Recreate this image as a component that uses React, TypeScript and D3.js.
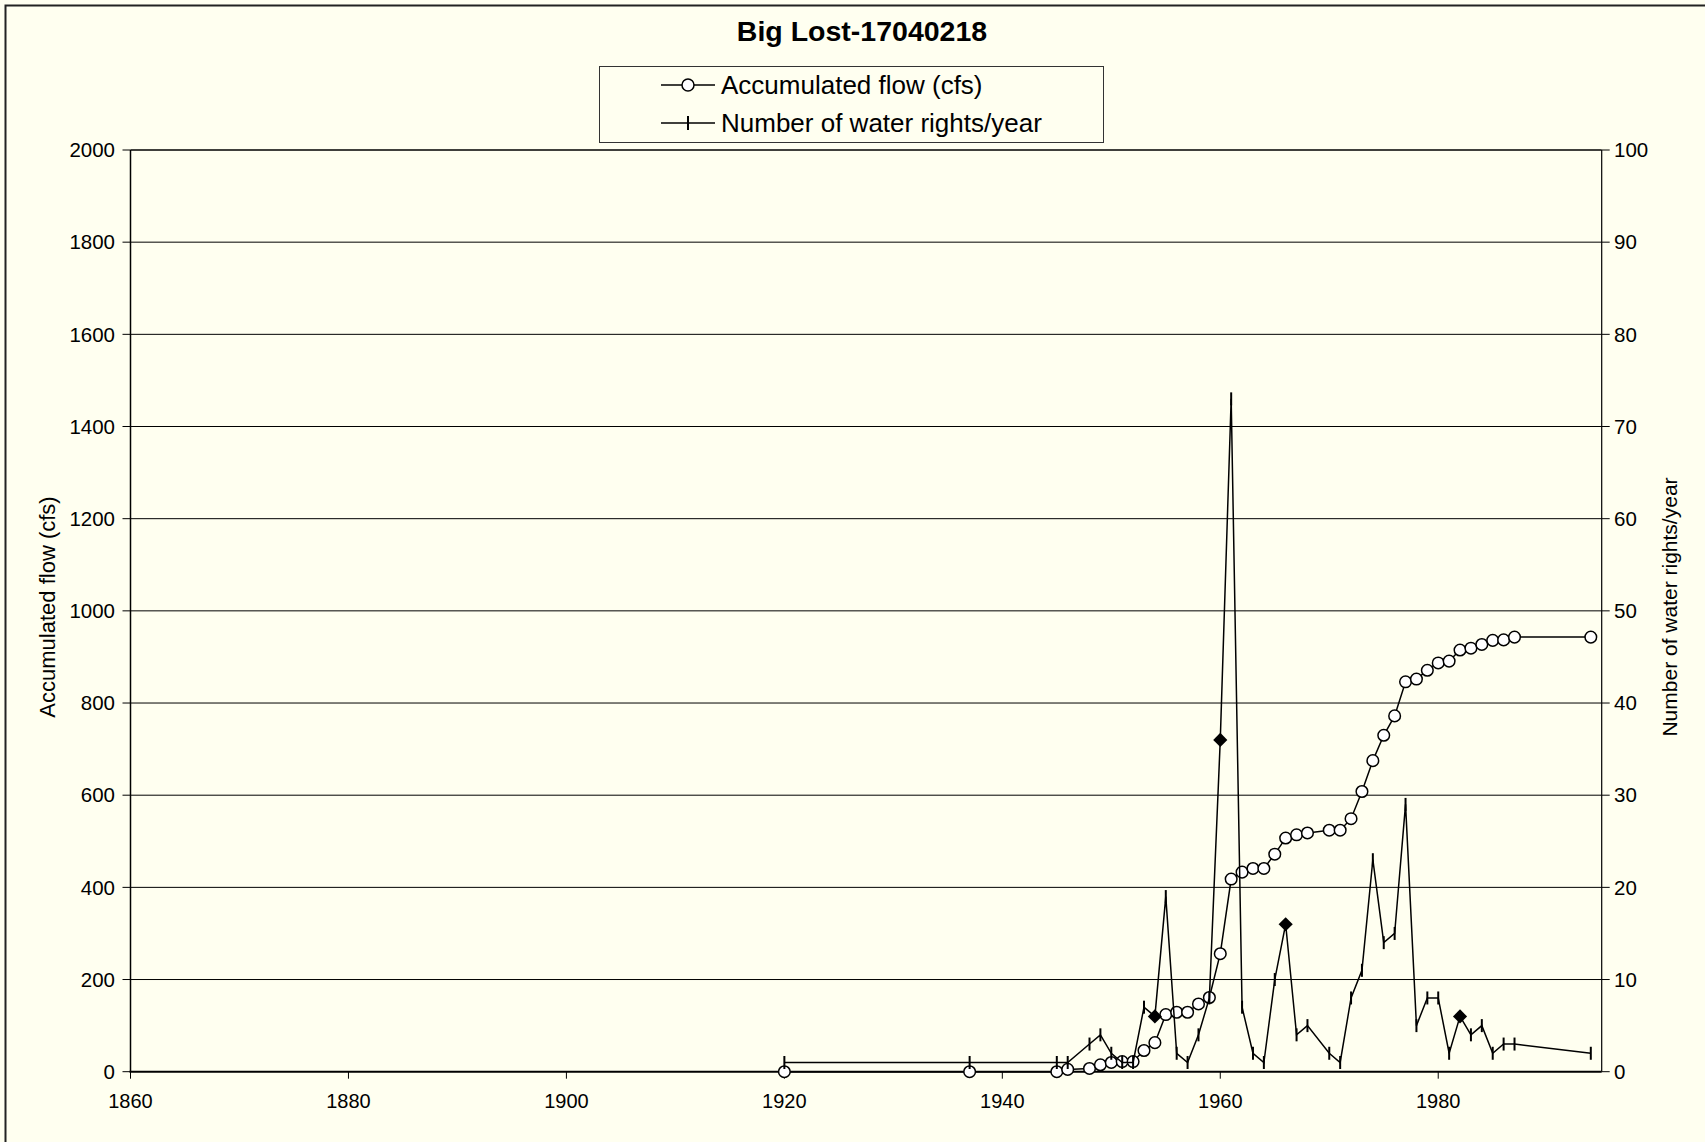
import React, { useEffect } from "react"
import * as d3 from "d3"

// Big Lost-17040218: accumulated flow (left axis) and water rights per year (right axis)
const flowYears = [1920, 1937, 1945, 1946, 1948, 1949, 1950, 1951, 1952, 1953, 1954, 1955, 1956, 1957, 1958, 1959,
  1960, 1961, 1962, 1963, 1964, 1965, 1966, 1967, 1968, 1970, 1971, 1972, 1973, 1974, 1975, 1976, 1977, 1978,
  1979, 1980, 1981, 1982, 1983, 1984, 1985, 1986, 1987, 1994]
const flowValues = [0, 0, 0, 5, 7, 15, 20, 22, 22, 46, 63, 124, 129, 129, 147, 161,
  256, 418, 433, 441, 441, 472, 507, 514, 518, 524, 524, 549, 608, 675, 730, 772, 846, 852,
  871, 887, 891, 915, 919, 927, 936, 937, 943, 943]
const rightsValues = [1, 1, 1, 1, 3, 4, 2, 1, 1, 7, 6, 19, 2, 1, 4, 8,
  36, 73, 7, 2, 1, 10, 16, 4, 5, 2, 1, 8, 11, 23, 14, 15, 29, 5,
  8, 8, 2, 6, 4, 5, 2, 3, 3, 2]
// years where the rights series shows a filled diamond instead of a tick
const diamondYears = [1954, 1960, 1966, 1982]

const leftTicks = [0, 200, 400, 600, 800, 1000, 1200, 1400, 1600, 1800, 2000]
const rightTicks = [0, 10, 20, 30, 40, 50, 60, 70, 80, 90, 100]
const yearTicks = [1860, 1880, 1900, 1920, 1940, 1960, 1980]

const W = 1705, H = 1142
const bg = "#FFFFF0"
const font = "'Liberation Sans', Arial, sans-serif"

export default function App() {
  useEffect(() => {
    document.body.style.margin = "0"
  }, [])

  const x = d3.scaleLinear().domain([1860, 1995]).range([130.5, 1601.7])
  const yL = d3.scaleLinear().domain([0, 2000]).range([1071.7, 150])
  const yR = d3.scaleLinear().domain([0, 100]).range([1071.7, 150])

  const flow = flowYears.map((yr, i) => ({ yr, v: flowValues[i] }))
  const rights = flowYears.map((yr, i) => ({ yr, v: rightsValues[i] }))

  const flowLine = d3.line<any>().x(d => x(d.yr)).y(d => yL(d.v))
  const rightsLine = d3.line<any>().x(d => x(d.yr)).y(d => yR(d.v))

  const left = x.range()[0], right = x.range()[1]
  const top = yL.range()[1], bottom = yL.range()[0]

  const row1 = 85, row2 = 123

  return (
    <svg width={W} height={H} style={{ position: "absolute", left: 0, top: 0, display: "block" }}
      fontFamily={font}>
      <rect x={0} y={0} width={W} height={H} fill={bg} />
      {/* outer chart frame, running off the right/bottom edge */}
      <rect x={5.5} y={5.5} width={W + 20} height={H + 20} fill="none" stroke="#222" strokeWidth={2} />

      <text x={862} y={41} textAnchor="middle" fontWeight="bold" fontSize={28.5}>Big Lost-17040218</text>

      {/* legend */}
      <rect x={599.5} y={66.5} width={504} height={76} fill={bg} stroke="#333" strokeWidth={1} />
      <line x1={661} x2={715} y1={row1} y2={row1} stroke="#000" strokeWidth={1.5} />
      <circle cx={688} cy={row1} r={6} fill="#fff" stroke="#000" strokeWidth={1.5} />
      <text x={721} y={row1} dy="0.35em" fontSize={26}>Accumulated flow (cfs)</text>
      <line x1={661} x2={715} y1={row2} y2={row2} stroke="#000" strokeWidth={1.5} />
      <line x1={688} x2={688} y1={row2 - 7} y2={row2 + 7} stroke="#000" strokeWidth={2} />
      <text x={721} y={row2} dy="0.35em" fontSize={26}>Number of water rights/year</text>

      {/* gridlines */}
      {leftTicks.slice(1, -1).map(t => (
        <line key={"g" + t} x1={left} x2={right} y1={yL(t)} y2={yL(t)} stroke="#000" strokeWidth={1} />
      ))}
      <line x1={left} x2={right} y1={top} y2={top} stroke="#000" strokeWidth={1.5} />

      {/* left axis */}
      <line x1={left} x2={left} y1={top} y2={bottom} stroke="#000" strokeWidth={1.5} />
      {leftTicks.map(t => (
        <g key={"l" + t}>
          <line x1={left - 8} x2={left} y1={yL(t)} y2={yL(t)} stroke="#000" strokeWidth={1} />
          <text x={115} y={yL(t)} dy="0.35em" textAnchor="end" fontSize={20.5}>{t}</text>
        </g>
      ))}
      <text transform={`translate(55,607) rotate(-90)`} textAnchor="middle" fontSize={22}>Accumulated  flow (cfs)</text>

      {/* right axis */}
      <line x1={right} x2={right} y1={top} y2={bottom} stroke="#000" strokeWidth={1.2} />
      {rightTicks.map(t => (
        <g key={"r" + t}>
          <line x1={right} x2={right + 8} y1={yR(t)} y2={yR(t)} stroke="#000" strokeWidth={1} />
          <text x={1614} y={yR(t)} dy="0.35em" fontSize={20.5}>{t}</text>
        </g>
      ))}
      <text transform={`translate(1677,607) rotate(-90)`} textAnchor="middle" fontSize={21}>Number of water rights/year</text>

      {/* bottom axis */}
      {yearTicks.map(t => (
        <g key={"x" + t}>
          <line x1={x(t)} x2={x(t)} y1={bottom} y2={bottom + 7} stroke="#000" strokeWidth={1} />
          <text x={x(t)} y={1108} textAnchor="middle" fontSize={20}>{t}</text>
        </g>
      ))}
      <line x1={left - 1} x2={right} y1={bottom} y2={bottom} stroke="#000" strokeWidth={2} />

      {/* accumulated flow */}
      <path d={flowLine(flow) || ""} fill="none" stroke="#000" strokeWidth={1.5} />
      {flow.map(d => (
        <circle key={"c" + d.yr} cx={x(d.yr)} cy={yL(d.v)} r={5.8} fill="#fff" stroke="#000" strokeWidth={1.5} />
      ))}

      {/* water rights per year */}
      <path d={rightsLine(rights) || ""} fill="none" stroke="#000" strokeWidth={1.5} />
      {rights.map(d => diamondYears.includes(d.yr) ? (
        <rect key={"d" + d.yr} x={-5} y={-5} width={10} height={10} fill="#000"
          transform={`translate(${x(d.yr)},${yR(d.v)}) rotate(45)`} />
      ) : (
        <line key={"t" + d.yr} x1={x(d.yr)} x2={x(d.yr)} y1={yR(d.v) - 6.5} y2={yR(d.v) + 6.5}
          stroke="#000" strokeWidth={2} />
      ))}
    </svg>
  )
}
